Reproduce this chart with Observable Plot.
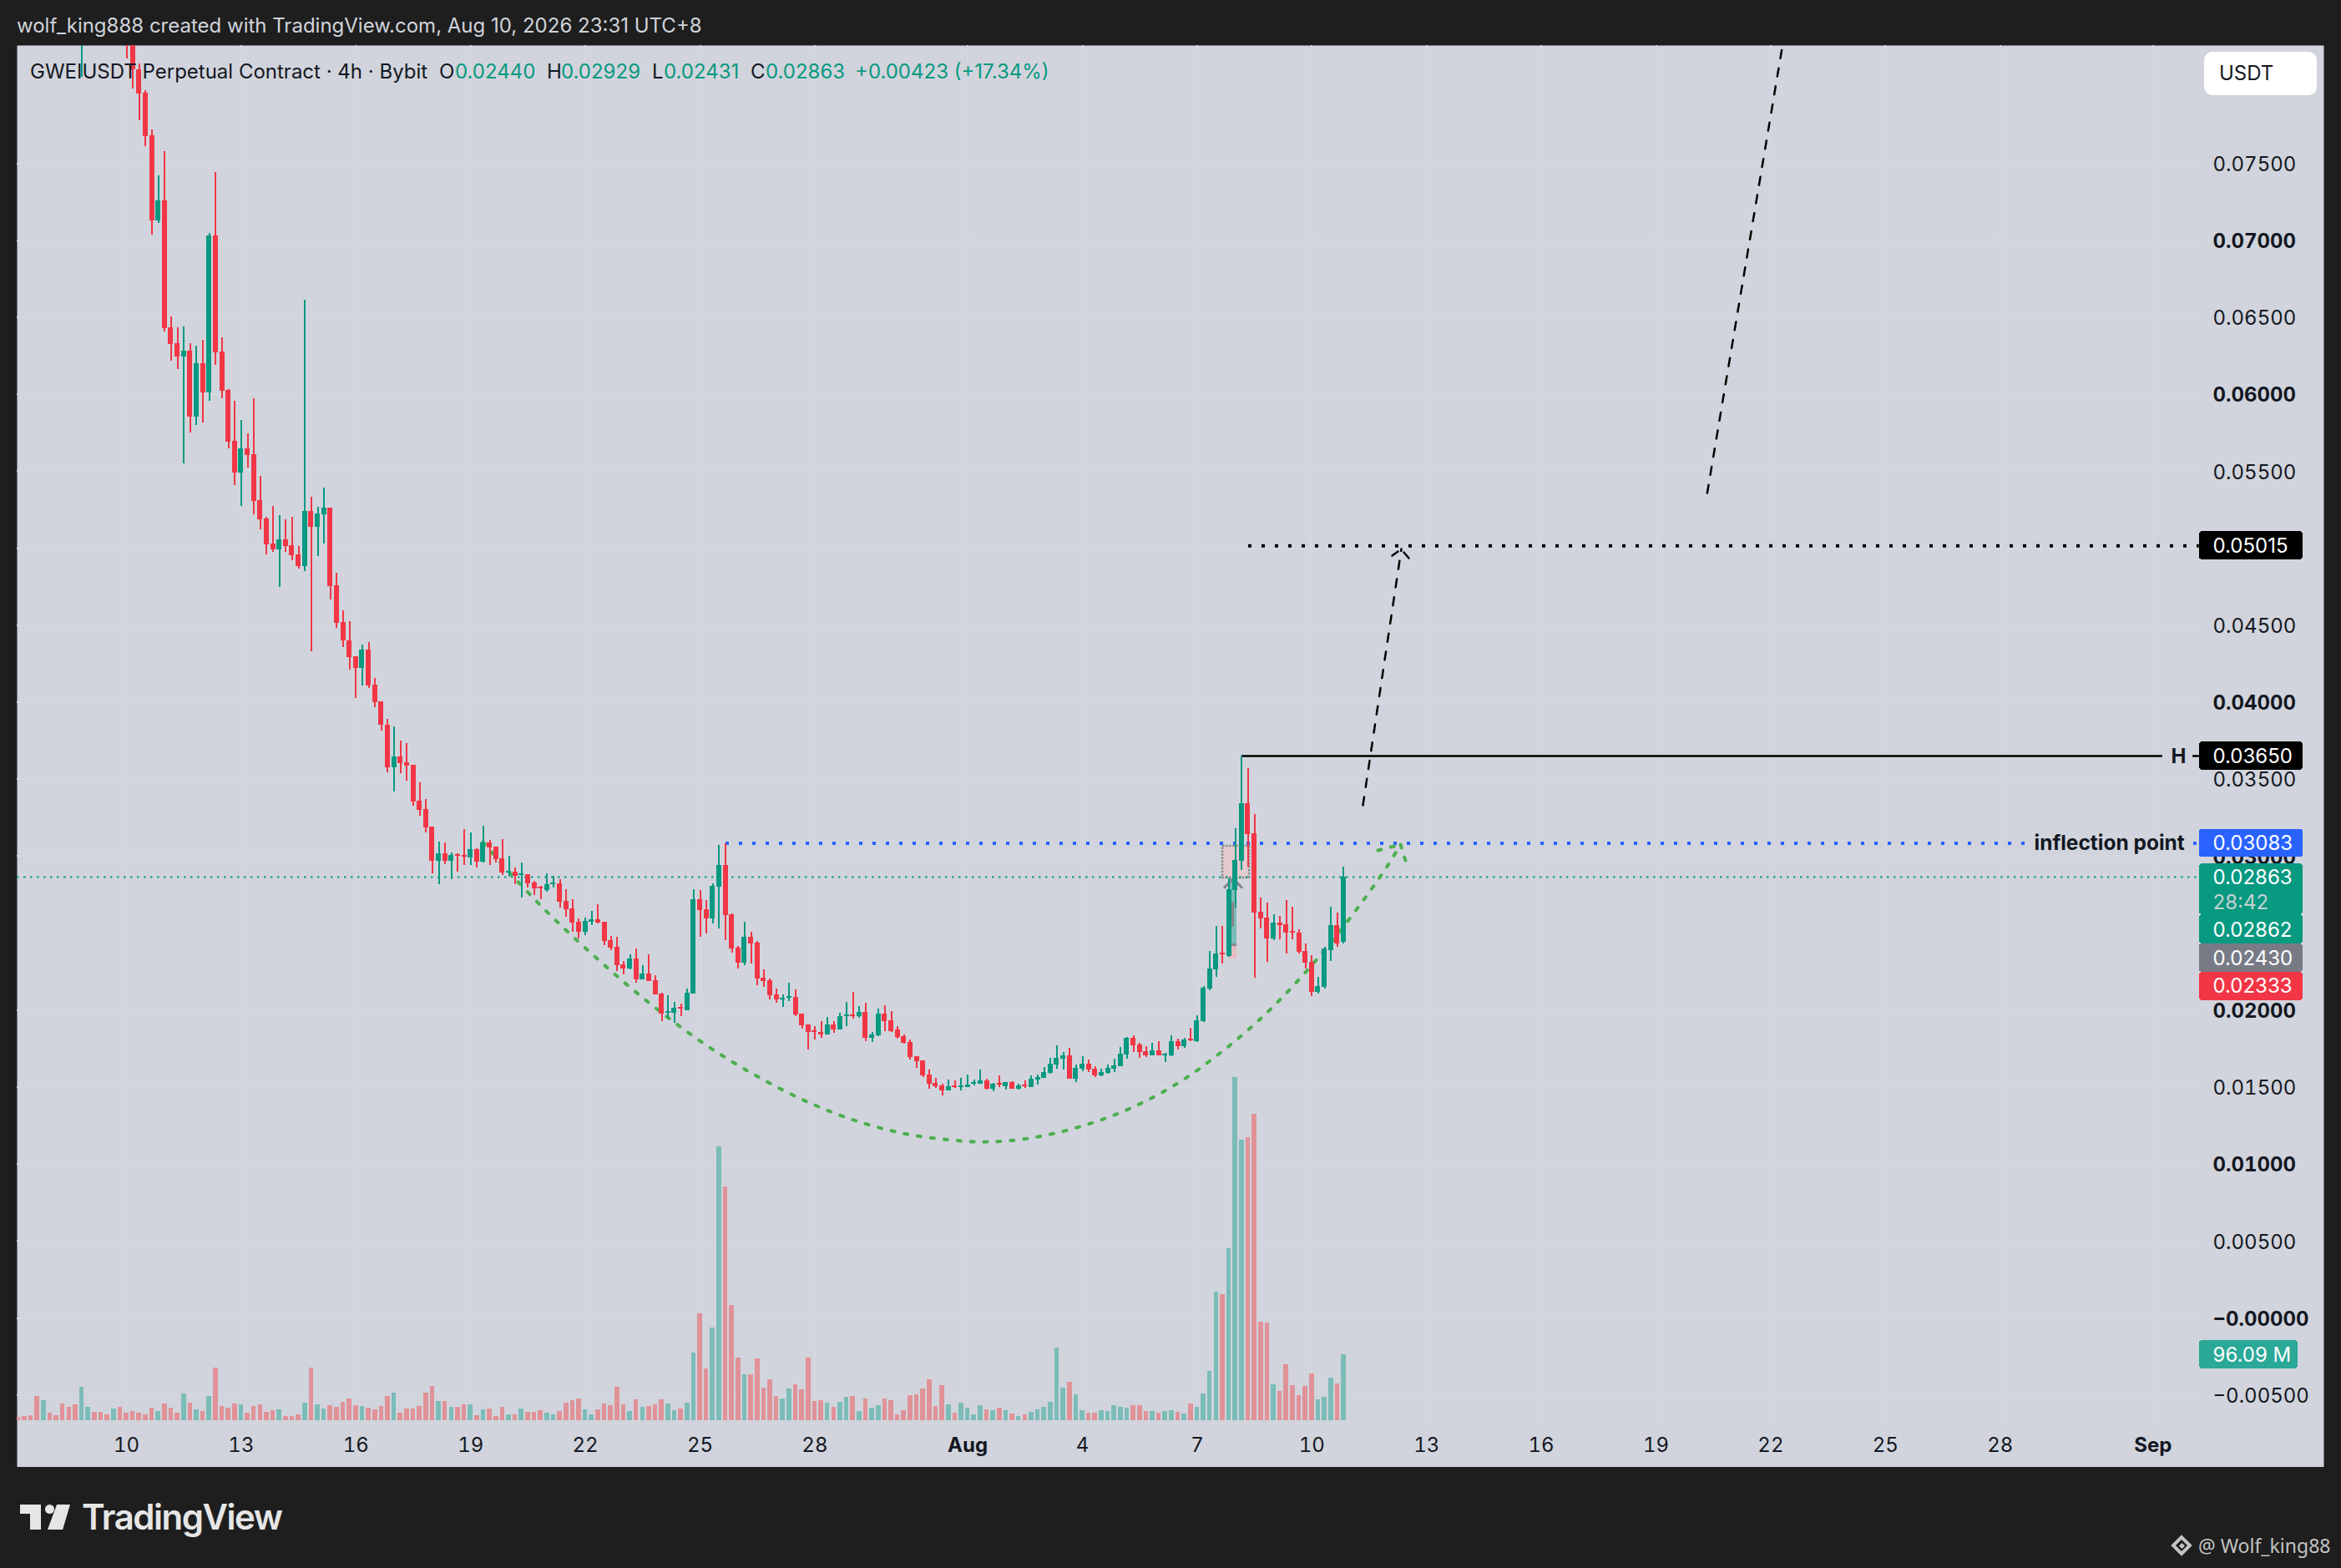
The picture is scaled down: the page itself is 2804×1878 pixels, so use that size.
<!DOCTYPE html>
<html>
<head>
<meta charset="utf-8">
<script src="https://cdn.jsdelivr.net/npm/d3@7"></script>
<script src="https://cdn.jsdelivr.net/npm/@observablehq/plot@0.6"></script>
<style>
html,body{margin:0;padding:0;background:#1e1e1e;}
#page{position:relative;width:2804px;height:1878px;overflow:hidden;background:#1e1e1e;font-family:Inter,"Liberation Sans",sans-serif;font-size:24px;}
#head{height:54px;line-height:62px;padding-left:20px;color:#d1d4dc;box-sizing:border-box;white-space:nowrap;}
#chart svg{display:block;}
#foot{position:relative;height:121px;}
.lg{position:absolute;top:70px;line-height:32px;white-space:nowrap;color:#131722;}
.v{color:#089981;}
#usdt{position:absolute;left:2640px;top:62px;width:135px;height:52px;border-radius:10px;background:#fff;color:#131722;line-height:52px;padding-left:18px;box-sizing:border-box;}
.abs{position:absolute;}
</style>
</head>
<body>
<div id="page">
  <div id="head">wolf_king888 created with TradingView.com, Aug 10, 2026 23:31 UTC+8</div>
  <div id="chart"></div>
  <div id="foot">
    <div class="abs" style="left:24px;top:45px;width:25px;height:30px;background:#e6e6e6;clip-path:polygon(0 0,100% 0,100% 100%,48% 100%,48% 37%,0 37%)"></div>
    <div class="abs" style="left:54px;top:45px;width:11px;height:11px;border-radius:50%;background:#e6e6e6"></div>
    <div class="abs" style="left:57px;top:45px;width:27px;height:30px;background:#e6e6e6;clip-path:polygon(41% 0,100% 0,67% 100%,0 100%)"></div>
    <div class="abs" style="left:98px;top:35px;font-size:42px;line-height:50px;font-weight:600;letter-spacing:-1.5px;color:#e6e6e6">TradingView</div>
    <div class="abs" style="left:2604px;top:85px;width:10px;height:10px;border:4.5px solid #c4c4c4;transform:rotate(45deg);box-sizing:content-box"></div>
    <div class="abs" style="left:2611px;top:92px;width:5px;height:5px;background:#c4c4c4;transform:rotate(45deg)"></div>
    <div class="abs" style="left:2633px;top:77px;font-family:'Noto Sans',sans-serif;font-size:23px;line-height:34px;color:#c4c4c4;white-space:nowrap">@ Wolf_king88</div>
  </div>
  <div class="lg" style="left:36px">GWEIUSDT Perpetual Contract · 4h · Bybit</div>
  <div class="lg" style="left:526px">O</div><div class="lg v" style="left:545px">0.02440</div>
  <div class="lg" style="left:655px">H</div><div class="lg v" style="left:672px">0.02929</div>
  <div class="lg" style="left:781px">L</div><div class="lg v" style="left:795px">0.02431</div>
  <div class="lg" style="left:899px">C</div><div class="lg v" style="left:917px">0.02863</div>
  <div class="lg v" style="left:1024px">+0.00423 (+17.34%)</div>
  <div id="usdt">USDT</div>
</div>
<script>
// Candle values, in hundred-thousandths of a USDT, one entry per 4h bar.
const highs = [14200,13800,13400,13100,12800,12800,12400,12100,11500,11100,
10700,11100,11100,10500,10100,10100,10100,9400,8700,8145,
7972,7717,7419,7576,6502,6432,6437,6329,6312,6350,
7044,7440,6367,6030,5954,5830,5743,5971,5466,5201,
5271,5212,5184,5201,5011,6611,5331,5266,5390,5260,
4837,4593,4523,4295,4371,4387,4154,4002,3888,3839,
3747,3731,3590,3476,3368,3189,3091,3086,3021,3015,
3172,3151,3048,3194,3102,3059,3107,2999,2923,2956,
2880,2836,2804,2885,2869,2847,2782,2717,2592,2598,
2641,2684,2571,2478,2473,2316,2359,2397,2288,2359,
2223,2110,2093,2050,2039,2137,2782,2777,2712,2820,
3069,3080,2625,2413,2571,2505,2446,2261,2202,2137,
2099,2175,2131,1974,1903,1893,1925,1952,1925,1979,
2050,2115,2023,2044,1855,2007,2028,1990,1893,1838,
1806,1697,1670,1611,1556,1518,1546,1540,1556,1578,
1546,1611,1551,1524,1573,1529,1535,1518,1540,1573,
1578,1627,1687,1768,1725,1752,1643,1697,1676,1632,
1616,1643,1681,1757,1822,1833,1784,1762,1784,1795,
1719,1833,1811,1817,1882,1963,2153,2381,2543,2543,
2852,3178,3650,3568,3270,2728,2695,2619,2608,2712,
2668,2522,2430,2354,2213,2408,2668,2630,2929];
const opens = [14000,13600,13200,12900,12000,12600,12200,11900,11300,10900,
10000,10500,10900,10300,9900,9500,9900,9200,8500,8107,
7955,7679,7126,7256,6432,6329,6242,6280,5851,6198,
6009,7028,6274,6025,5694,5488,5645,5607,5309,5190,
5027,4989,5054,5016,4957,4881,5239,5136,5217,5260,
4756,4517,4398,4295,4219,4338,4111,4002,3850,3574,
3644,3606,3590,3357,3303,3189,2966,3015,2966,3010,
3004,2988,3042,2961,3086,3059,2983,2890,2896,2874,
2880,2825,2798,2777,2815,2820,2706,2657,2571,2505,
2571,2587,2571,2451,2408,2294,2267,2332,2196,2234,
2191,2104,1979,1979,2017,1996,2104,2717,2652,2592,
2798,2939,2619,2402,2305,2473,2435,2207,2191,2099,
2066,2077,2082,1974,1903,1866,1855,1838,1903,1871,
1958,1969,1958,1985,1817,1833,1974,1931,1871,1828,
1790,1697,1670,1578,1524,1508,1475,1508,1497,1497,
1518,1518,1540,1486,1524,1502,1529,1486,1513,1497,
1546,1556,1589,1643,1681,1703,1551,1616,1649,1616,
1573,1589,1616,1632,1708,1817,1773,1730,1703,1735,
1703,1703,1795,1762,1811,1795,1925,2137,2261,2370,
2348,2777,2966,3341,3145,2636,2598,2462,2565,2554,
2511,2500,2381,2310,2115,2148,2386,2549,2440];
const closes = [13600,13200,12900,12000,12600,12200,11900,11300,10900,10400,
10500,10900,10300,9900,9500,9900,9200,8500,8107,7950,
7674,7126,7256,6426,6323,6242,6280,5851,6198,6009,
7028,6269,6020,5689,5488,5645,5602,5304,5184,5022,
4989,5054,5011,4951,4881,5239,5136,5222,5260,4751,
4512,4398,4290,4219,4338,4105,3997,3850,3574,3644,
3601,3585,3351,3297,3183,2966,3015,2966,3004,2999,
2993,3042,2961,3086,3053,2977,2890,2901,2869,2885,
2820,2787,2787,2815,2825,2701,2652,2565,2505,2576,
2587,2565,2446,2402,2288,2267,2332,2196,2234,2185,
2099,1974,1990,2012,2007,2110,2717,2646,2592,2804,
2939,2614,2397,2305,2473,2430,2202,2185,2093,2066,
2077,2088,1969,1898,1855,1855,1838,1903,1871,1958,
1969,1958,1985,1817,1838,1974,1925,1860,1822,1784,
1692,1665,1573,1518,1502,1475,1502,1497,1508,1513,
1529,1540,1486,1518,1513,1529,1486,1508,1502,1551,
1562,1594,1649,1687,1703,1551,1621,1649,1611,1573,
1594,1621,1638,1714,1817,1768,1725,1703,1735,1703,
1714,1795,1762,1806,1800,1931,2142,2267,2364,2359,
2782,2972,3341,3140,2630,2592,2462,2565,2549,2500,
2500,2375,2305,2115,2153,2397,2549,2430,2863];
const lows = [13400,13000,12700,11800,11800,12000,11700,11100,10700,10200,
8058,10300,10100,9700,9300,9300,9000,8178,7983,7777,
7608,7034,7109,6405,6215,6161,5548,5748,5797,5813,
5954,6188,5971,5645,5407,5271,5521,5217,5119,4957,
4973,4745,4973,4919,4864,4848,4328,4946,5027,4664,
4479,4355,4208,4024,4105,4089,3964,3812,3541,3416,
3536,3487,3324,3259,3151,2885,2815,2945,2847,2896,
2939,2939,2923,2956,2939,2956,2874,2863,2815,2728,
2793,2744,2717,2766,2793,2663,2603,2505,2462,2484,
2549,2560,2419,2386,2250,2229,2261,2175,2196,2185,
2099,1925,1947,1914,1958,1996,2104,2473,2495,2560,
2527,2451,2370,2267,2288,2299,2158,2148,2066,2044,
2017,2055,1958,1876,1741,1806,1817,1838,1849,1871,
1893,1941,1947,1795,1790,1828,1860,1855,1811,1779,
1676,1621,1562,1486,1491,1443,1475,1491,1475,1497,
1508,1518,1480,1470,1497,1480,1486,1480,1491,1497,
1513,1556,1584,1616,1611,1551,1529,1600,1594,1562,
1567,1584,1594,1632,1681,1725,1687,1692,1703,1703,
1659,1697,1741,1752,1795,1790,1920,2126,2213,2299,
2343,2663,2907,2928,2207,2527,2310,2451,2457,2364,
2457,2364,2267,2088,2104,2137,2316,2408,2431];
// Volume in millions of units, same bars.
const volumes = [4.9,6.1,7.3,35.3,29.2,10.9,7.3,24.3,19.5,23.1,
48.7,19.5,12.2,12.2,8.5,17,19.5,10.9,13.4,10.9,
8.5,18.2,13.4,24.3,18.2,10.9,38.9,25.5,15.8,13.4,
35.3,76.6,20.7,18.2,24.3,23.1,10.9,20.7,23.1,12.2,
14.6,15.8,6.1,6.1,8.5,25.5,76.6,23.1,17,21.9,
19.5,26.8,31.6,21.9,20.7,18.2,15.8,20.7,35.3,40.1,
10.9,17,17,20.7,40.1,49.9,28,28,19.5,19.5,
23.1,23.1,7.3,15.8,17,6.1,19.5,8.5,8.5,17,
12.2,12.2,14.6,10.9,8.5,13.4,25.5,29.2,31.6,15.8,
8.5,15.8,24.3,21.9,48.7,23.1,13.4,30.4,19.5,20.7,
23.1,30.4,24.3,14.6,17,25.5,98.5,155.7,75.4,135,
399,340,167.9,91.2,66.9,66.9,90,47.4,59.6,35.3,
31.6,46.2,52.3,45,91.2,28,29.2,25.5,19.5,26.8,
34.1,35.3,13.4,31.6,18.2,21.9,31.6,29.2,8.5,14.6,
36.5,37.7,46.2,59.6,20.7,51.1,23.1,10.9,25.5,18.2,
8.5,21.9,15.8,14.6,18.2,14.6,9.7,6.1,8.5,12.2,
15.8,19.5,26.8,105.8,47.4,56,37.7,14.6,10.9,10.9,
14.6,13.4,21.9,19.5,18.2,21.9,21.9,13.4,13.4,10.9,
13.4,14.6,12.2,9.7,24.3,19.5,38.9,71.8,187.3,183.7,
250,500,409,412,446,143.5,142.3,52.3,42.6,81.5,
51.1,36.5,49.9,68.1,30.4,34.1,62,53.5,96.09];
// Time runs in days of July-numbered calendar: day 10 = Jul 10, day 32 = Aug 1, day 63 = Sep 1.
const firstBarDay = 10 - 17 / 6;
const tickDaysPlain = [10,13,16,19,22,25,28,35,38,41,44,47,50,53,56,59];
const tickLabelsPlain = ["10","13","16","19","22","25","28","4","7","10","13","16","19","22","25","28"];
const tickDaysMonth = [32,63];
const tickLabelsMonth = ["Aug","Sep"];
const priceTicksMajor = [0.07,0.06,0.05,0.04,0.03,0.02,0.01,0];
const priceTicksMinor = [0.075,0.065,0.055,0.045,0.035,0.015,0.005,-0.005];
// Cup curve drawn on the chart (day, price in hundred-thousandths)
const cupDays = [19.323,20.066,21.048,22.074,23.122,24.214,25.349,26.55,27.795,29.083,30.437,31.834,32.533,33.581,34.934,36.245,37.489,38.624,39.694,40.655,41.572,42.424,43.013,43.319];
const cupPrices = [3091,2880,2625,2386,2158,1941,1741,1562,1405,1280,1193,1150,1144,1166,1242,1361,1524,1725,1952,2196,2462,2739,2950,3075];
const cupHead = [[42.729,3037],[43.319,3075],[43.515,2918]];
// Projected path drawn on the chart
const pathLow = [[42.336,3330],[43.341,4995]];
const pathHigh = [[51.34,5358],[53.36,8341]];
const arrowWings = [[[43.1,4951],[43.253,4978]],[[43.537,4935],[43.406,4973]]];
// Horizontal levels
const lastPrice = 0.02863, inflection = 0.03083, target = 0.05015, highLevel = 0.0365;
const axisStart = 64.21, axisPillEnd = 66.92, volPillEnd = 66.79;
// Axis price tags: value text, text position, tag top, tag bottom, colour
const tags = [
 {t:"0.05015",y:0.05016,y1:0.05108,y2:0.04924,c:"#000000"},
 {t:"0.03650",y:0.03650,y1:0.03742,y2:0.03558,c:"#000000"},
 {t:"0.03083",y:0.03083,y1:0.03175,y2:0.02991,c:"#2962ff"},
 {t:"0.02863",y:0.02863,y1:0.02950,y2:0.02619,c:"#089981"},
 {t:"0.02862",y:0.02522,y1:0.02619,y2:0.02430,c:"#089981"},
 {t:"0.02430",y:0.02337,y1:0.02430,y2:0.02245,c:"#787b86"},
 {t:"0.02333",y:0.02156,y1:0.02245,y2:0.02061,c:"#f23645"}
];
const volTag = {t:"96.09 M",y:-0.00239,y1:-0.00146,y2:-0.00331,c:"#2aa898"};
const countdown = {t:"28:42",y:0.02700};

const up="#089981", down="#f23645", volUp="#7bbcb8", volDown="#e09298";
const halfBody = 3.0/45.8, halfVol = 2.8/45.8;
const volBase = -0.00667, volStep = 4.46e-5;
const bars = opens.map((o,i)=>({
  x:firstBarDay+i/6, open:o/1e5, close:closes[i]/1e5, high:highs[i]/1e5, low:lows[i]/1e5, vol:volumes[i],
  up:closes[i]>=o
}));
const pt = a=>({x:a[0],y:a[1]/1e5});
const cup = cupDays.map((d,i)=>({x:d,y:cupPrices[i]/1e5}));
const fmt = v => (v<=0?"\u2212":"")+Math.abs(v).toFixed(5);
const crisp = {shapeRendering:"crispEdges"};
const tagText = {frameAnchor:"right",textAnchor:"start",dx:-133,dy:0.5,fontSize:24,fontFamily:"Inter"};

const plot = Plot.plot({
  width:2804, height:1703,
  marginLeft:20, marginRight:21, marginTop:0, marginBottom:0,
  style:{background:"transparent",fontFamily:"Inter"},
  x:{type:"linear",domain:[7.1397,67.467],axis:null},
  y:{type:"linear",domain:[-0.009707,0.08265],axis:null},
  color:{type:"identity"},
  marks:[
    Plot.frame({fill:"#d1d4dc"}),
    // grid
    Plot.ruleY(priceTicksMajor.concat(priceTicksMinor),{x1:7.1397,x2:64.17,stroke:"#d4d7df",strokeWidth:2,...crisp}),
    Plot.ruleX(tickDaysPlain.concat(tickDaysMonth),{y1:-0.00667,y2:0.08265,stroke:"#d4d7df",strokeWidth:2,...crisp}),
    // volume
    Plot.rect(bars,{x1:d=>d.x-halfVol,x2:d=>d.x+halfVol,y1:volBase,y2:d=>volBase+d.vol*volStep,fill:d=>d.up?volUp:volDown,clip:true,...crisp}),
    // position tool near the breakout
    Plot.rect([{a:38.67,b:39.37,c:0.03064,d:0.02858}],{x1:"a",x2:"b",y1:"c",y2:"d",fill:"#e3cbd0",stroke:"#8c8c8c",strokeWidth:2.5,strokeDasharray:"2.5 1.5"}),
    Plot.rect([{a:38.86,b:39.04,c:0.02852,d:0.0243}],{x1:"a",x2:"b",y1:"c",y2:"d",fill:"#7cbcb8",...crisp}),
    Plot.rect([{a:38.82,b:39.04,c:0.02419,d:0.02332}],{x1:"a",x2:"b",y1:"c",y2:"d",fill:"#e8bcc1",...crisp}),
    Plot.ruleY([0.02424],{x1:38.86,x2:39.04,stroke:"#8a8a90",strokeWidth:3}),
    Plot.line([{x:38.72,y:0.02798},{x:38.94,y:0.02852},{x:39.16,y:0.02798}],{x:"x",y:"y",stroke:"#84848a",strokeWidth:3}),
    Plot.ruleX([38.93],{y1:0.0254,y2:0.0270,stroke:"#84848a",strokeWidth:3}),
    // levels
    Plot.ruleY([lastPrice],{x1:7.1397,x2:axisStart,stroke:up,strokeWidth:2,strokeDasharray:"2.5 5.5"}),
    Plot.ruleY([inflection],{x1:25.677,x2:59.65,stroke:"#2962ff",strokeWidth:4,strokeDasharray:"4 12"}),
    Plot.ruleY([inflection],{x1:64.06,x2:axisStart,stroke:"#2962ff",strokeWidth:4,strokeDasharray:"4 12"}),
    Plot.ruleY([target],{x1:39.345,x2:axisStart,stroke:"#000",strokeWidth:4,strokeDasharray:"4 12"}),
    Plot.ruleY([highLevel],{x1:39.17,x2:63.25,stroke:"#000",strokeWidth:2.5}),
    Plot.ruleY([highLevel],{x1:64.04,x2:axisStart,stroke:"#000",strokeWidth:2.5}),
    // projected path
    Plot.line(pathLow.map(pt),{x:"x",y:"y",stroke:"#000",strokeWidth:2.5,strokeDasharray:"10 12"}),
    Plot.line(pathHigh.map(pt),{x:"x",y:"y",stroke:"#000",strokeWidth:2.5,strokeDasharray:"10 12",clip:true}),
    ...arrowWings.map(w=>Plot.line(w.map(pt),{x:"x",y:"y",stroke:"#000",strokeWidth:2.5})),
    // cup curve
    Plot.line(cup,{x:"x",y:"y",curve:"catmull-rom",stroke:"#4caf50",strokeWidth:4,strokeDasharray:"4 12",strokeLinecap:"round"}),
    Plot.line(cupHead.slice(0,2).map(pt),{x:"x",y:"y",stroke:"#4caf50",strokeWidth:4,strokeDasharray:"4 12",strokeLinecap:"round"}),
    Plot.line(cupHead.slice(1).map(pt),{x:"x",y:"y",stroke:"#4caf50",strokeWidth:4,strokeDasharray:"4 12",strokeLinecap:"round"}),
    // candles
    Plot.ruleX(bars,{x:"x",y1:"low",y2:"high",stroke:d=>d.up?up:down,strokeWidth:2,clip:true,...crisp}),
    Plot.rect(bars,{x1:d=>d.x-halfBody,x2:d=>d.x+halfBody,y1:"open",y2:"close",fill:d=>d.up?up:down,clip:true,...crisp}),
    // axes
    Plot.axisY({anchor:"right",ticks:priceTicksMinor,tickSize:0,tickPadding:-133,dy:1.5,tickFormat:fmt,fontSize:24,fill:"#131722",label:null}),
    Plot.axisY({anchor:"right",ticks:priceTicksMajor,tickSize:0,tickPadding:-133,dy:1.5,tickFormat:fmt,fontSize:24,fontWeight:700,fill:"#131722",label:null}),
    Plot.axisX({anchor:"bottom",ticks:tickDaysPlain,tickSize:0,tickPadding:-26,lineAnchor:"middle",tickFormat:d=>tickLabelsPlain[tickDaysPlain.indexOf(d)],fontSize:24,fill:"#131722",label:null}),
    Plot.axisX({anchor:"bottom",ticks:tickDaysMonth,tickSize:0,tickPadding:-26,lineAnchor:"middle",tickFormat:d=>tickLabelsMonth[tickDaysMonth.indexOf(d)],fontSize:24,fontWeight:700,fill:"#131722",label:null}),
    // tags on the price axis
    Plot.rect(tags,{x1:axisStart,x2:axisPillEnd,y1:"y1",y2:"y2",fill:"c",rx:4,...crisp}),
    Plot.rect([volTag],{x1:axisStart,x2:volPillEnd,y1:"y1",y2:"y2",fill:"c",rx:4,...crisp}),
    Plot.text(tags,{y:"y",text:"t",fill:"#ffffff",...tagText}),
    Plot.text([volTag],{y:"y",text:"t",fill:"#ffffff",...tagText}),
    Plot.text([countdown],{y:"y",text:"t",fill:"#c5d2d0",...tagText}),
    Plot.text(["H"],{y:[highLevel],text:d=>d,frameAnchor:"right",textAnchor:"start",dx:-183,dy:0.5,fontSize:24,fontWeight:700,fill:"#131722"}),
    Plot.text(["inflection point"],{y:[inflection],text:d=>d,frameAnchor:"right",textAnchor:"start",dx:-347,dy:0.5,fontSize:24.5,fontWeight:700,fill:"#131722"})
  ]
});
document.getElementById("chart").appendChild(plot);
</script>
</body>
</html>
